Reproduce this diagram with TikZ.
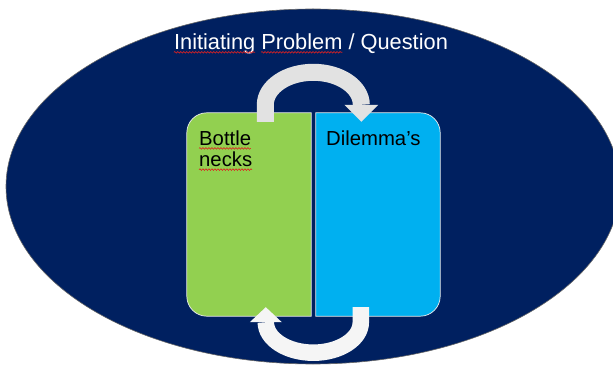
\documentclass[tikz,border=0pt]{standalone}
\usepackage{fontspec}
\setmainfont{Liberation Sans}
\usetikzlibrary{calc,decorations.pathmorphing}

\definecolor{navy}{HTML}{002060}
\definecolor{leafgreen}{HTML}{92D050}
\definecolor{skyblue}{HTML}{00B0F0}
\definecolor{arrowgrey}{HTML}{E2E2E2}
\definecolor{arrowwhite}{HTML}{F5F5F5}
\definecolor{spellred}{HTML}{E02020}

\newcommand\titlefont{\fontsize{21.8pt}{26pt}\selectfont}
\newcommand\boxfont{\fontsize{20.3pt}{21pt}\selectfont}
\newlength\wInit
\newlength\wInitSp
\newlength\wProb
\newlength\wBottle
\newlength\wNecks

\begin{document}
% word widths for the spell-check underlines
\settowidth\wInit{\titlefont Initiating}%
\settowidth\wInitSp{\titlefont Initiating\ }%
\settowidth\wProb{\titlefont Problem}%
\settowidth\wBottle{\boxfont Bottle}%
\settowidth\wNecks{\boxfont necks}%
\begin{tikzpicture}[x=1pt,y=1pt,
  panel/.style={draw=none, fill=none, inner sep=0pt, minimum width=124pt, minimum height=203pt},
  panelfill/.style={draw=white!85!gray, line width=0.7pt},
  caption/.style={inner sep=0pt, font=\boxfont, text=black, align=left},
  spell/.style={draw=spellred, line width=0.6pt, decorate,
    decoration={snake, amplitude=0.8pt, segment length=3pt}},
  loopshaft/.style={line width=17pt, line cap=butt},
]
\useasboundingbox (0,0) rectangle (613,367);

% backdrop oval
\fill[navy, draw=black!60, line width=0.6pt] (313,180.5) ellipse [x radius=307pt, y radius=177.5pt];

% heading with spell-check marks
\node[inner sep=0pt, anchor=base, text=white, font=\titlefont] (title) at (311,317.7)
  {Initiating Problem / Question};
\draw[spell] ($(title.base west)+(0pt,-3pt)$) -- ++(\wInit,0pt);
\draw[spell] ($(title.base west)+(\wInitSp,-3pt)$) -- ++(\wProb,0pt);

% the two panels
\node[panel] (bn) at (249,152.5) {};
\node[panel] (dl) at (378,152.5) {};
\fill[leafgreen, panelfill] (bn.north east) -- ([xshift=20pt]bn.north west)
  arc[start angle=90, end angle=180, radius=20pt] -- ([yshift=20pt]bn.south west)
  arc[start angle=180, end angle=270, radius=20pt] -- (bn.south east) -- cycle;
\fill[skyblue, panelfill] (dl.north west) -- ([xshift=-20pt]dl.north east)
  arc[start angle=90, end angle=0, radius=20pt] -- ([yshift=20pt]dl.south east)
  arc[start angle=0, end angle=-90, radius=20pt] -- (dl.south west) -- cycle;

% panel captions
\node[caption, anchor=south west] (bntext) at (199,200) {Bottle\\necks};
\node[caption, anchor=base west] (dltext) at (326,221) {Dilemma’s};
\draw[spell] ($(bntext.south west)+(0pt,18.6pt)$) -- ++(\wBottle,0pt);
\draw[spell] ($(bntext.south west)+(0pt,-2.6pt)$) -- ++(\wNecks,0pt);

% cycle arrows between the panels
\coordinate (topfrom) at ($(bn.north west)+(78.5,-9)$);
\coordinate (topto) at ($(dl.north west)+(45.5,-9)$);
\draw[loopshaft, arrowgrey] (topfrom) -- ++(0,17)
  arc[start angle=180, end angle=0, x radius=48pt, y radius=32.5pt];
\fill[arrowgrey] ($(topto)+(-17,17)$) -- ($(topto)+(17,17)$) -- (topto) -- cycle;

\coordinate (botfrom) at ($(dl.south west)+(45,9)$);
\coordinate (botto) at ($(bn.south west)+(79,9)$);
\draw[loopshaft, line width=16.5pt, arrowwhite] (botfrom) -- ++(0,-15)
  arc[start angle=0, end angle=-180, x radius=47.5pt, y radius=30.5pt];
\fill[arrowwhite] ($(botto)+(-16,-15)$) -- ($(botto)+(16,-15)$) -- (botto) -- cycle;
\end{tikzpicture}
\end{document}
